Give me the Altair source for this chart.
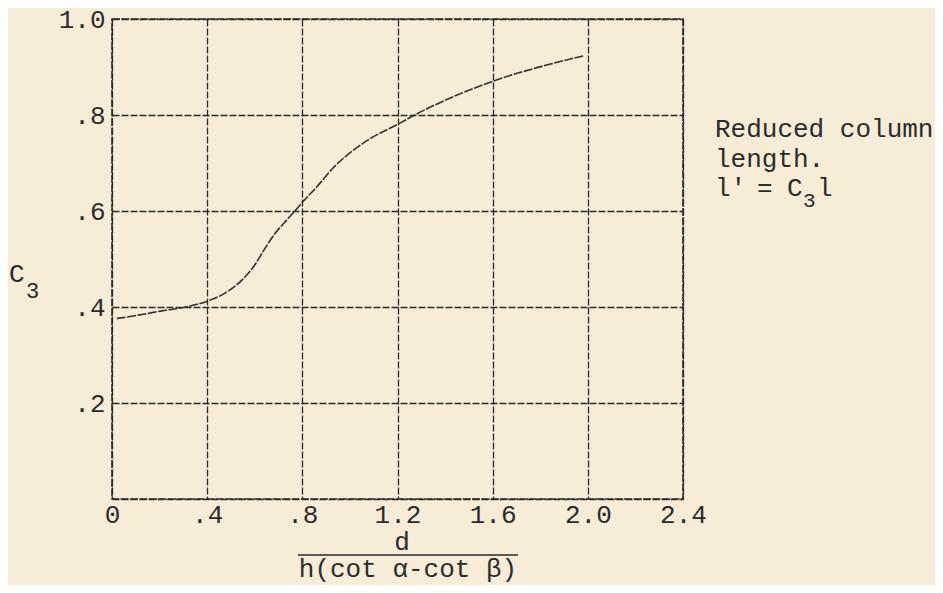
import altair as alt
import pandas as pd

# ---- data ----
ratio = [0.02, 0.11, 0.21, 0.31, 0.405, 0.475, 0.56, 0.60, 0.643, 0.685, 0.734,
         0.776, 0.811, 0.853, 0.93, 1.07, 1.21, 1.28, 1.42, 1.616, 1.826, 1.98]
c3 = [0.376, 0.383, 0.392, 0.40, 0.413, 0.429, 0.463, 0.4875, 0.522, 0.553, 0.581,
      0.604, 0.624, 0.646, 0.69, 0.746, 0.783, 0.802, 0.835, 0.873, 0.904, 0.923]

x_ticks = [0, 0.4, 0.8, 1.2, 1.6, 2.0, 2.4]
x_tick_labels = ["0", ".4", ".8", "1.2", "1.6", "2.0", "2.4"]
y_ticks = [0, 0.2, 0.4, 0.6, 0.8, 1.0]
y_tick_labels = ["", ".2", ".4", ".6", ".8", "1.0"]

note_lines = ["Reduced column", "length."]
formula_parts = ["l'", "=", "C", "3", "l"]

FONT = "Courier New, Liberation Mono, monospace"
INK = "#2b2b2b"
BG = "#f7ecd7"

df = pd.DataFrame({"ratio": ratio, "c3": c3})

def label_expr(labels, step):
    arr = "[" + ",".join("'" + s + "'" for s in labels) + "]"
    return f"{arr}[round(datum.value / {step})]"

curve = alt.Chart(df).mark_line(
    color="#303030", strokeWidth=1.6, interpolate="monotone", strokeDash=[9, 1.5]
).encode(
    x=alt.X("ratio:Q", scale=alt.Scale(domain=[0, 2.4], nice=False),
            axis=alt.Axis(values=x_ticks, labelExpr=label_expr(x_tick_labels, 0.4),
                          title=None, grid=True, gridDash=[7, 2], gridColor=INK,
                          gridWidth=1.3, gridOpacity=1, domain=False, ticks=False,
                          tickSize=0, labelPadding=23, labelBaseline="alphabetic",
                          labelFont=FONT, labelFontSize=26, labelColor=INK,
                          labelFlush=False, labelOverlap=False)),
    y=alt.Y("c3:Q", scale=alt.Scale(domain=[0, 1.0], nice=False),
            axis=alt.Axis(values=y_ticks, labelExpr=label_expr(y_tick_labels, 0.2),
                          title=None, grid=True, gridDash=[7, 2], gridColor=INK,
                          gridWidth=1.3, gridOpacity=1, domain=False, ticks=False,
                          tickSize=0, labelPadding=7, labelBaseline="middle",
                          labelFont=FONT, labelFontSize=26, labelColor=INK,
                          labelFlush=False, labelOverlap=False)),
)

one = pd.DataFrame({"k": [0]})

def txt(text, x, y, size=26, align="left"):
    return alt.Chart(one).mark_text(
        font=FONT, fontSize=size, color=INK, align=align, baseline="alphabetic"
    ).encode(x=alt.value(x), y=alt.value(y), text=alt.value(text))

# x-axis title as a fraction
num = txt("d", 290, 531, align="center")
bar = alt.Chart(one).mark_rule(color=INK, strokeWidth=1.6).encode(
    x=alt.value(186), x2=alt.value(406), y=alt.value(536))
den = txt("h(cot α-cot β)", 296, 558, align="center")

# y-axis title C3
yc = txt("C", -103, 263)
y3 = txt("3", -86, 279, size=22)

# right-hand note
n1 = txt(note_lines[0], 603, 118)
n2 = txt(note_lines[1], 603, 148)
f1 = txt(formula_parts[0], 603, 177)
f2 = txt(formula_parts[1], 645, 177)
f3 = txt(formula_parts[2], 675, 177)
f4 = txt(formula_parts[3], 691, 188, size=21)
f5 = txt(formula_parts[4], 705, 177)

chart = alt.layer(curve, num, bar, den, yc, y3, n1, n2, f1, f2, f3, f4, f5).properties(
    width=571, height=480,
    autosize=alt.AutoSizeParams(type="none"),
    padding={"left": 104, "top": 11, "right": 252, "bottom": 86},
    background=BG,
).configure_view(
    stroke=INK, strokeWidth=1.6, strokeDash=[8, 1.5], fill=None
)

chart.save("out.html", embed_options={"renderer": "svg", "actions": False})
